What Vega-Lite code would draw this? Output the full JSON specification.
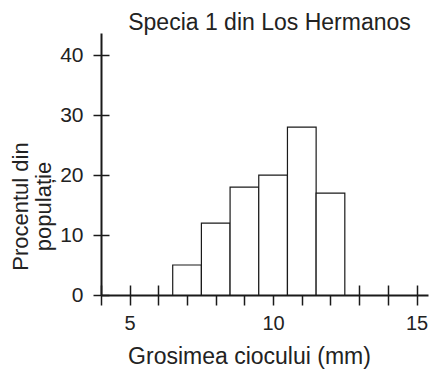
{
  "$schema": "https://vega.github.io/schema/vega-lite/v6.json",
  "width": 327,
  "height": 262,
  "autosize": {"type": "none"},
  "padding": {"left": 101, "top": 33, "right": 4, "bottom": 77},
  "background": "white",
  "title": {
    "text": "Specia 1 din Los Hermanos",
    "font": "Liberation Sans",
    "fontSize": 23,
    "fontWeight": "normal",
    "color": "#222222",
    "anchor": "middle",
    "baseline": "alphabetic",
    "offset": -20,
    "dx": 5
  },
  "config": {
    "view": {"stroke": null},
    "axis": {
      "grid": false,
      "domainColor": "#1a1a1a",
      "tickColor": "#1a1a1a",
      "labelFont": "Liberation Sans",
      "titleFont": "Liberation Sans",
      "labelColor": "#222222",
      "titleColor": "#222222",
      "titleFontWeight": "normal"
    }
  },
  "data": {
    "values": [
      {"start": 6.5, "end": 7.5, "pct": 5},
      {"start": 7.5, "end": 8.5, "pct": 12},
      {"start": 8.5, "end": 9.5, "pct": 18},
      {"start": 9.5, "end": 10.5, "pct": 20},
      {"start": 10.5, "end": 11.5, "pct": 28},
      {"start": 11.5, "end": 12.5, "pct": 17}
    ]
  },
  "layer": [
    {
      "mark": {"type": "bar", "fill": "white", "stroke": "#1a1a1a", "strokeWidth": 1.2},
      "encoding": {
        "x": {
          "field": "start",
          "type": "quantitative",
          "scale": {"domain": [4, 15.4], "nice": false, "zero": false},
          "axis": {
            "values": [4, 5, 6, 7, 8, 9, 10, 11, 12, 13, 14, 15],
            "labelExpr": "datum.value % 5 === 0 ? datum.label : ''",
            "domainWidth": 2,
            "tickWidth": 1.5,
            "tickSize": 10,
            "labelFontSize": 20,
            "labelPadding": 8,
            "title": "Grosimea ciocului (mm)",
            "titleFontSize": 23,
            "titleX": 148,
            "titleY": 68,
            "titleBaseline": "alphabetic",
            "titleAlign": "center",
            "labelFlush": false,
            "labelOverlap": false
          }
        },
        "x2": {"field": "end"},
        "y": {
          "field": "pct",
          "type": "quantitative",
          "scale": {"domain": [0, 43.7], "nice": false},
          "axis": {
            "values": [0, 10, 20, 30, 40],
            "domainWidth": 2,
            "tickWidth": 1.5,
            "tickSize": 8,
            "labelFontSize": 21,
            "labelPadding": 10,
            "title": ["Procentul din", "populație"],
            "titleFontSize": 22,
            "titleLineHeight": 23,
            "titleX": -74,
            "titleY": 173,
            "titleAngle": -90,
            "titleBaseline": "alphabetic",
            "titleAlign": "center",
            "labelFlush": false,
            "labelOverlap": false
          }
        },
        "y2": {"datum": 0}
      }
    },
    {
      "mark": {"type": "bar", "fillOpacity": 0, "strokeOpacity": 0},
      "encoding": {
        "x": {
          "field": "start",
          "type": "quantitative",
          "axis": {
            "orient": "bottom",
            "values": [4, 5, 6, 7, 8, 9, 10, 11, 12, 13, 14, 15],
            "domain": false,
            "labels": false,
            "title": null,
            "tickWidth": 1.5,
            "tickSize": -10
          }
        },
        "x2": {"field": "end"},
        "y": {
          "field": "pct",
          "type": "quantitative",
          "axis": {
            "orient": "left",
            "values": [0, 10, 20, 30, 40],
            "domain": false,
            "labels": false,
            "title": null,
            "tickWidth": 1.5,
            "tickSize": -8
          }
        },
        "y2": {"datum": 0}
      }
    }
  ],
  "resolve": {"axis": {"x": "independent", "y": "independent"}}
}
